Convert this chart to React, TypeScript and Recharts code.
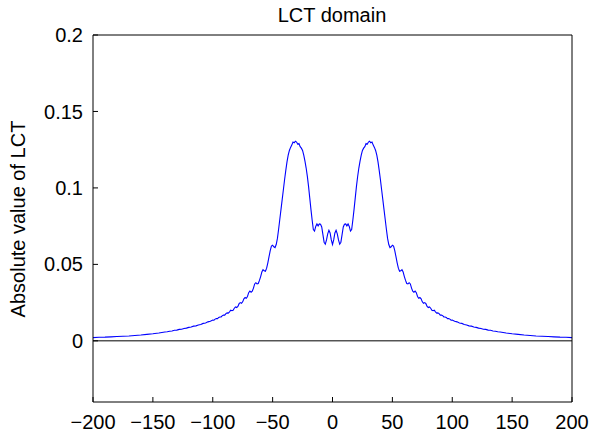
import React from 'react';
import { LineChart, Line, XAxis, YAxis, ReferenceLine } from 'recharts';

const chartTitle = 'LCT domain';
const yAxisLabel = 'Absolute value of LCT';
const xTicks = [-200, -150, -100, -50, 0, 50, 100, 150, 200];
const yTicks = [0, 0.05, 0.1, 0.15, 0.2];

const positions = [
  -200, -195, -190, -185, -180, -175, -170, -165, -160, -155, -150, -145,
  -140, -138, -136, -134, -132, -130, -128, -126, -124, -122,
  -120, -118, -116, -114, -112, -110, -108, -106, -104, -102,
  -100, -99, -98, -97, -96, -95, -94, -93, -92, -91,
  -90, -89, -88, -87, -86, -85, -84, -83, -82, -81,
  -80, -79, -78, -77, -76, -75, -74, -73, -72, -71,
  -70, -69, -68, -67, -66, -65, -64, -63, -62, -61,
  -60, -59, -58, -57, -56, -55, -54, -53, -52, -51,
  -50, -49, -48, -47, -46, -45, -44, -43, -42, -41,
  -40, -39, -38, -37, -36, -35, -34, -33, -32, -31,
  -30, -29, -28, -27, -26, -25, -24, -23, -22, -21,
  -20, -19, -18, -17, -16, -15, -14, -13, -12, -11,
  -10, -9, -8, -7, -6, -5, -4, -3, -2, -1,
  0,
  1, 2, 3, 4, 5, 6, 7, 8, 9, 10,
  11, 12, 13, 14, 15, 16, 17, 18, 19, 20,
  21, 22, 23, 24, 25, 26, 27, 28, 29, 30,
  31, 32, 33, 34, 35, 36, 37, 38, 39, 40,
  41, 42, 43, 44, 45, 46, 47, 48, 49, 50,
  51, 52, 53, 54, 55, 56, 57, 58, 59, 60,
  61, 62, 63, 64, 65, 66, 67, 68, 69, 70,
  71, 72, 73, 74, 75, 76, 77, 78, 79, 80,
  81, 82, 83, 84, 85, 86, 87, 88, 89, 90,
  91, 92, 93, 94, 95, 96, 97, 98, 99, 100,
  102, 104, 106, 108, 110, 112, 114, 116, 118, 120,
  122, 124, 126, 128, 130, 132, 134, 136, 138, 140,
  145, 150, 155, 160, 165, 170, 175, 180, 185, 190, 195, 200,
];

const magnitudes = [
  0.0021, 0.0023, 0.0024, 0.0026, 0.0028, 0.0030, 0.0032, 0.0035, 0.0038, 0.0042, 0.0046, 0.0051,
  0.0058, 0.0059, 0.0063, 0.0064, 0.0069, 0.0070, 0.0075, 0.0076, 0.0081, 0.0083,
  0.0088, 0.0090, 0.0096, 0.0098, 0.0104, 0.0107, 0.0114, 0.0117, 0.0124, 0.0128,
  0.0136, 0.0135, 0.0142, 0.0146, 0.0145, 0.0153, 0.0156, 0.0156, 0.0165, 0.0168,
  0.0168, 0.0178, 0.0183, 0.0181, 0.0190, 0.0200, 0.0197, 0.0200, 0.0213, 0.0222,
  0.0218, 0.0225, 0.0243, 0.0250, 0.0245, 0.0255, 0.0275, 0.0283, 0.0278, 0.0290,
  0.0315, 0.0325, 0.0318, 0.0325, 0.0345, 0.0372, 0.0380, 0.0372, 0.0375, 0.0395,
  0.0420, 0.0450, 0.0465, 0.0458, 0.0455, 0.0475, 0.0510, 0.0550, 0.0590, 0.0620,
  0.0625, 0.0615, 0.0610, 0.0630, 0.0670, 0.0730, 0.0795, 0.0860, 0.0925, 0.0990,
  0.1055, 0.1115, 0.1170, 0.1215, 0.1245, 0.1265, 0.1280, 0.1300, 0.1295, 0.1305,
  0.1300, 0.1285, 0.1290, 0.1270, 0.1260, 0.1245, 0.1215, 0.1175, 0.1130, 0.1075,
  0.1010, 0.0935, 0.0860, 0.0790, 0.0728, 0.0718, 0.0748, 0.0765, 0.0752, 0.0765,
  0.0763, 0.0745, 0.0695, 0.0645, 0.0632, 0.0660, 0.0700, 0.0723, 0.0705, 0.0660,
  0.0630,
  0.0660, 0.0705, 0.0723, 0.0700, 0.0660, 0.0632, 0.0645, 0.0695, 0.0745, 0.0763,
  0.0765, 0.0752, 0.0765, 0.0748, 0.0718, 0.0728, 0.0790, 0.0860, 0.0935, 0.1010,
  0.1075, 0.1130, 0.1175, 0.1215, 0.1245, 0.1260, 0.1270, 0.1290, 0.1285, 0.1300,
  0.1305, 0.1295, 0.1300, 0.1280, 0.1265, 0.1245, 0.1215, 0.1170, 0.1115, 0.1055,
  0.0990, 0.0925, 0.0860, 0.0795, 0.0730, 0.0670, 0.0630, 0.0610, 0.0615, 0.0625,
  0.0620, 0.0590, 0.0550, 0.0510, 0.0475, 0.0455, 0.0458, 0.0465, 0.0450, 0.0420,
  0.0395, 0.0375, 0.0372, 0.0380, 0.0372, 0.0345, 0.0325, 0.0318, 0.0325, 0.0315,
  0.0290, 0.0278, 0.0283, 0.0275, 0.0255, 0.0245, 0.0250, 0.0243, 0.0225, 0.0218,
  0.0222, 0.0213, 0.0200, 0.0197, 0.0200, 0.0190, 0.0181, 0.0183, 0.0178, 0.0168,
  0.0168, 0.0165, 0.0156, 0.0156, 0.0153, 0.0145, 0.0146, 0.0142, 0.0135, 0.0136,
  0.0128, 0.0124, 0.0117, 0.0114, 0.0107, 0.0104, 0.0098, 0.0096, 0.0090, 0.0088,
  0.0083, 0.0081, 0.0076, 0.0075, 0.0070, 0.0069, 0.0064, 0.0063, 0.0059, 0.0058,
  0.0051, 0.0046, 0.0042, 0.0038, 0.0035, 0.0032, 0.0030, 0.0028, 0.0026, 0.0024, 0.0023, 0.0021,
];

const data = positions.map((x, i) => ({ x, y: magnitudes[i] }));

const FONT = '"Liberation Sans", Arial, Helvetica, sans-serif';
const FS = 20;
const X_GAP = 13;
const Y_GAP = 10;
const TICK_LEN = 5;
const fmtX = (v: number) => (v < 0 ? '\u2212' + Math.abs(v) : String(v));
const fmtY = (v: number) => String(v);

const BottomTick = (props: any) => {
  const { x, y, payload } = props;
  const axisY = y - X_GAP;
  return (
    <g>
      <line x1={x} x2={x} y1={axisY} y2={axisY - TICK_LEN} stroke="#000" strokeWidth={1} />
      <text x={x} y={y} dy="0.71em" textAnchor="middle" fill="#000" fontSize={FS} fontFamily={FONT}>
        {fmtX(payload.value)}
      </text>
    </g>
  );
};

const LeftTick = (props: any) => {
  const { x, y, payload } = props;
  const axisX = x + Y_GAP;
  return (
    <g>
      <line x1={axisX} x2={axisX + TICK_LEN} y1={y} y2={y} stroke="#000" strokeWidth={1} />
      <text x={x} y={y} dy="0.355em" textAnchor="end" fill="#000" fontSize={FS} fontFamily={FONT}>
        {fmtY(payload.value)}
      </text>
    </g>
  );
};

export default function App() {
  return (
    <div style={{ position: 'absolute', left: 0, top: 0, width: 592, height: 438, background: '#fff' }}>
      <LineChart width={592} height={438} data={data} margin={{ top: 35, right: 20, bottom: 0, left: 0 }}>
        <XAxis
          xAxisId="b"
          dataKey="x"
          type="number"
          domain={[-200, 200]}
          ticks={xTicks}
          interval={0}
          height={36}
          tickSize={0}
          tickLine={false}
          tickMargin={X_GAP}
          stroke="#000"
          tick={<BottomTick />}
          allowDataOverflow
        />
        <XAxis
          xAxisId="t"
          orientation="top"
          dataKey="x"
          type="number"
          domain={[-200, 200]}
          ticks={xTicks}
          interval={0}
          height={1}
          mirror
          tickSize={TICK_LEN}
          tick={false}
          stroke="#000"
          allowDataOverflow
        />
        <YAxis
          yAxisId="l"
          type="number"
          domain={[-0.04, 0.2]}
          ticks={yTicks}
          interval={0}
          width={93}
          tickSize={0}
          tickLine={false}
          tickMargin={Y_GAP}
          stroke="#000"
          tick={<LeftTick />}
          allowDataOverflow
        />
        <YAxis
          yAxisId="r"
          orientation="right"
          type="number"
          domain={[-0.04, 0.2]}
          ticks={yTicks}
          interval={0}
          width={1}
          mirror
          tickSize={TICK_LEN}
          tick={false}
          stroke="#000"
          allowDataOverflow
        />
        <ReferenceLine xAxisId="b" yAxisId="l" y={0} stroke="#000" strokeWidth={1} />
        <Line
          xAxisId="b"
          yAxisId="l"
          type="linear"
          dataKey="y"
          stroke="#0000ff"
          strokeWidth={1.1}
          dot={false}
          isAnimationActive={false}
        />
      </LineChart>
      <div
        style={{
          position: 'absolute',
          left: 93,
          width: 478,
          top: 4,
          textAlign: 'center',
          fontFamily: FONT,
          fontSize: FS,
          color: '#000',
          lineHeight: '22px',
        }}
      >
        {chartTitle}
      </div>
      <div
        style={{
          position: 'absolute',
          left: 18 - 183,
          top: 219 - 11,
          width: 366,
          height: 22,
          lineHeight: '22px',
          textAlign: 'center',
          transform: 'rotate(-90deg)',
          fontFamily: FONT,
          fontSize: FS,
          color: '#000',
        }}
      >
        {yAxisLabel}
      </div>
    </div>
  );
}
